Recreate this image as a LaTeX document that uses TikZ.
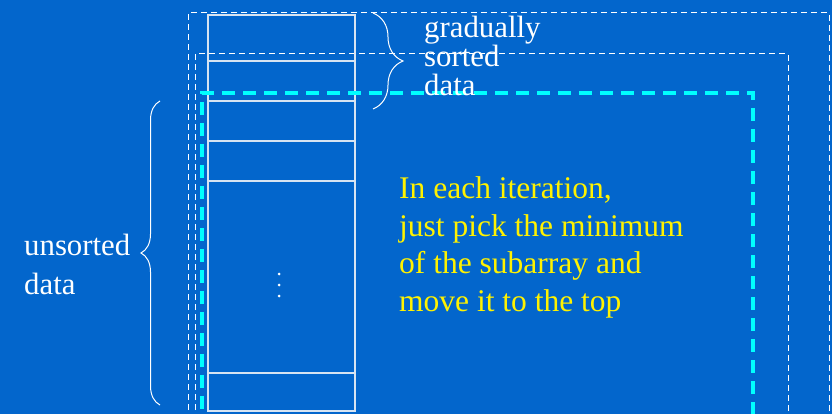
\documentclass[tikz,border=0pt]{standalone}
\usepackage{fontspec}
\setmainfont{Liberation Serif}
\usetikzlibrary{decorations.pathreplacing}
\definecolor{bgblue}{RGB}{3,102,204}
\definecolor{celline}{RGB}{215,228,242}
\definecolor{brightcyan}{RGB}{0,255,255}
\tikzset{
  whitedash/.style={draw=white, line width=1pt, dash pattern=on 6pt off 4pt},
  cyandash/.style={draw=brightcyan, line width=3.4pt, dash pattern=on 13pt off 8pt},
  cell/.style={draw=celline, line width=1.3pt},
  bracestyle/.style={draw=white, line width=1pt, decorate},
  whitetext/.style={text=white, font=\fontsize{30.8}{30}\selectfont, anchor=base west, inner sep=0pt},
  yellowtext/.style={text=yellow, font=\fontsize{31.5}{31}\selectfont, anchor=base west, inner sep=0pt},
  dotstyle/.style={fill=white, draw=none, circle, inner sep=0pt, minimum size=3pt}
}
\begin{document}
\begin{tikzpicture}[x=1pt, y=-1pt]
\useasboundingbox (0,0) rectangle (832,414);
\fill[bgblue] (0,0) rectangle (832,414);
\begin{scope}
\clip (0,0) rectangle (832,414);
% dashed frames
\draw[whitedash] (188,430) -- (188,13) -- (829,13) -- (829,430);
\draw[whitedash] (195,430) -- (195,54) -- (788,54) -- (788,430);
% array
\draw[cell] (208,15) rectangle (355,411);
\coordinate (aL1) at (208,61);  \coordinate (aR1) at (355,61);
\coordinate (aL2) at (208,101); \coordinate (aR2) at (355,101);
\coordinate (aL3) at (208,141); \coordinate (aR3) at (355,141);
\coordinate (aL4) at (208,181); \coordinate (aR4) at (355,181);
\coordinate (aL5) at (208,373); \coordinate (aR5) at (355,373);
\draw[cell] (aL1) -- (aR1);
\draw[cell] (aL2) -- (aR2);
\draw[cell] (aL3) -- (aR3);
\draw[cell] (aL4) -- (aR4);
\draw[cell] (aL5) -- (aR5);
% cyan frame
\draw[cyandash] (202,430) -- (202,93) -- (753,93) -- (753,430);
\end{scope}
% dots
\node[dotstyle] (d1) at (279,274) {};
\node[dotstyle] (d2) at (279,285) {};
\node[dotstyle] (d3) at (279,296) {};
% braces
\coordinate (tb1) at (373,13);
\coordinate (tb2) at (373,109);
\draw[bracestyle, decoration={brace, amplitude=30pt}] (tb1) -- (tb2);
\coordinate (lb1) at (160,405);
\coordinate (lb2) at (160,101);
\draw[bracestyle, decoration={brace, amplitude=19pt}] (lb1) -- (lb2);
% texts
\node[whitetext] (g1) at (424,38) {gradually};
\node[whitetext] (g2) at (424,67) {sorted};
\node[whitetext] (g3) at (424,96) {data};
\node[whitetext] (u1) at (24,255) {unsorted};
\node[whitetext] (u2) at (24,294) {data};
\node[yellowtext] (y1) at (399,198) {In each iteration,};
\node[yellowtext] (y2) at (399,236) {just pick the minimum};
\node[yellowtext] (y3) at (399,273) {of the subarray and};
\node[yellowtext] (y4) at (399,311) {move it to the top};
\end{tikzpicture}
\end{document}
